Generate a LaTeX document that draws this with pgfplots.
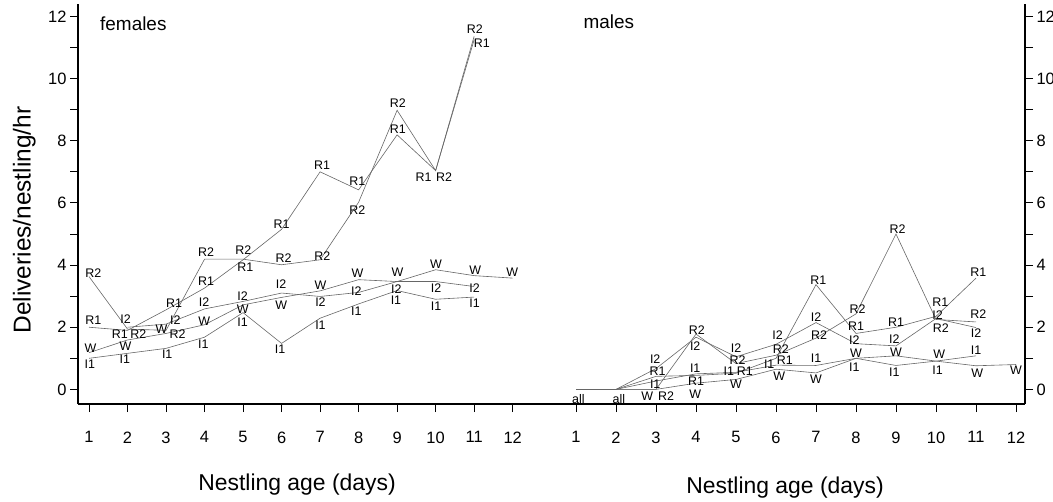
\documentclass[border=0pt]{standalone}
\usepackage{fontspec}
\setmainfont{Liberation Sans}
\usepackage{pgfplots}
\pgfplotsset{compat=1.18}

\pgfplotsset{
  ln/.style={black!60, line width=0.6bp, mark=none},
  lab/.style={only marks, mark=*, mark size=0pt, mark options={draw=none, fill=none},
    point meta=explicit symbolic,
    nodes near coords={\fontsize{12.5}{12.5}\selectfont\pgfplotspointmeta},
    every node near coord/.append style={anchor=center, inner sep=0pt, text=black}},
  panel/.style={
    scale only axis, height=400bp, clip=false,
    ymin=-0.47, ymax=12.4,
    ytick={0,2,...,12}, minor ytick={1,3,...,11},
    xtick={1,...,12},
    tick align=outside,
    major tick length=8bp, minor tick length=8bp,
    every tick/.style={black, line width=0.9bp},
    axis line style={-, black, line width=1.2bp},
    /pgf/number format/assume math mode=true,
    ticklabel style={font=\fontsize{16.5}{18}\selectfont},
    xticklabel style={yshift=-16bp},
  },
}

\begin{document}
\begin{tikzpicture}

% females
\begin{axis}[panel, name=L, at={(0,0)}, anchor=south west, width=467bp,
  xmin=0.714, xmax=12.84,
  axis x line*=bottom, axis y line*=left,
  ylabel={Deliveries/nestling/hr},
  every axis y label/.style={at={(axis description cs:-0.115,0.46)}, rotate=90, anchor=center,
    font=\fontsize{24.5}{26}\selectfont},
  xlabel={Nestling age (days)},
  every axis x label/.style={at={(axis description cs:0.469,-0.2025)}, anchor=center,
    font=\fontsize{23}{26}\selectfont},
]
\addplot[ln] coordinates {(1,2.0)(2,1.9)(3,2.56)(4,3.26)(5,4.17)(6,5.15)(7,7.0)(8,6.42)(9,8.19)(10,7.04)(11,11.25)};
\addplot[ln] coordinates {(1,3.63)(2,1.94)(3,1.9)(4,4.19)(5,4.19)(6,4.01)(7,4.17)(8,6.02)(9,8.98)(10,7.04)(11,11.36)};
\addplot[ln] coordinates {(2,2.0)(3,2.1)(4,2.59)(5,2.83)(6,3.1)(7,2.99)(8,3.12)(9,3.47)(10,3.47)(11,3.31)};
\addplot[ln] coordinates {(1,1.18)(2,1.59)(3,1.8)(4,2.08)(5,2.72)(6,2.96)(7,3.17)(8,3.53)(9,3.47)(10,3.85)(11,3.66)(12,3.58)};
\addplot[ln] coordinates {(1,1.0)(2,1.16)(3,1.32)(4,1.68)(5,2.47)(6,1.48)(7,2.29)(8,2.75)(9,3.18)(10,2.9)(11,2.97)};

\addplot[lab] coordinates {(1.11,2.24)[R1] (1.8,1.77)[R1] (3.21,2.77)[R1] (4.04,3.47)[R1] (5.06,3.92)[R1]
  (6.0,5.3)[R1] (7.05,7.2)[R1] (7.97,6.69)[R1] (9.02,8.37)[R1] (9.69,6.82)[R1] (11.2,11.15)[R1]};
\addplot[lab] coordinates {(1.11,3.74)[R2] (2.28,1.77)[R2] (3.3,1.77)[R2] (4.04,4.42)[R2] (5.01,4.47)[R2]
  (6.05,4.23)[R2] (7.06,4.28)[R2] (7.97,5.76)[R2] (9.02,9.2)[R2] (10.22,6.82)[R2] (11.02,11.59)[R2]};
\addplot[lab] coordinates {(1.95,2.26)[I2] (3.24,2.24)[I2] (3.99,2.8)[I2] (4.99,2.99)[I2] (5.99,3.37)[I2]
  (7.01,2.8)[I2] (7.94,3.15)[I2] (8.98,3.23)[I2] (10.01,3.26)[I2] (11.01,3.26)[I2]};
\addplot[lab] coordinates {(1.04,1.32)[W] (1.95,1.38)[W] (2.88,1.95)[W] (3.99,2.2)[W] (4.99,2.59)[W] (5.99,2.72)[W]
  (7.01,3.34)[W] (7.97,3.74)[W] (9.01,3.76)[W] (10.01,4.03)[W] (11.03,3.82)[W] (11.99,3.76)[W]};
\addplot[lab] coordinates {(1.02,0.82)[I1] (1.93,0.97)[I1] (3.03,1.13)[I1] (3.97,1.46)[I1] (4.99,2.15)[I1] (5.96,1.29)[I1]
  (7.01,2.08)[I1] (7.94,2.53)[I1] (8.97,2.86)[I1] (10.01,2.69)[I1] (11.01,2.77)[I1]};

\node[anchor=west, font=\fontsize{19}{20}\selectfont] at (axis description cs:0.04,0.95) {females};
\end{axis}

% males
\begin{axis}[panel, name=R, at={(L.south east)}, anchor=south west, width=480bp,
  xmin=0.225, xmax=12.225,
  axis x line*=bottom, axis y line*=right,
  xlabel={Nestling age (days)},
  every axis x label/.style={at={(axis description cs:0.5,-0.21)}, anchor=center,
    font=\fontsize{23}{26}\selectfont},
]
\addplot[ln] coordinates {(1,0)(2,0)};
\addplot[ln] coordinates {(2,0)(3,0.42)(4,0.45)(5,0.52)(6,1.0)(7,3.37)(8,1.8)(9,2.0)(10,2.35)(11,3.58)};
\addplot[ln] coordinates {(2,0)(3,0)(4,1.78)(5,0.83)(6,1.1)(7,1.65)(8,2.43)(9,5.0)(10,2.25)(11,2.17)};
\addplot[ln] coordinates {(2,0)(3,0.67)(4,1.68)(5,1.05)(6,1.45)(7,2.15)(8,1.47)(9,1.4)(10,2.28)(11,1.99)};
\addplot[ln] coordinates {(2,0)(3,0.27)(4,0.5)(5,0.55)(6,0.78)(7,0.77)(8,1.0)(9,0.77)(10,0.91)(11,1.08)};
\addplot[ln] coordinates {(2,0)(3,0)(4,0.2)(5,0.32)(6,0.65)(7,0.53)(8,1.0)(9,1.08)(10,0.91)(11,0.76)(12,0.8)};

\addplot[lab] coordinates {(1.06,-0.32)[all] (2.07,-0.32)[all]};
\addplot[lab] coordinates {(3.04,0.58)[R1] (4.0,0.26)[R1] (5.22,0.58)[R1] (6.22,0.93)[R1] (7.06,3.5)[R1]
  (8.0,2.03)[R1] (9.0,2.17)[R1] (10.11,2.8)[R1] (11.06,3.78)[R1]};
\addplot[lab] coordinates {(3.25,-0.22)[R2] (4.02,1.92)[R2] (5.04,0.93)[R2] (6.12,1.3)[R2] (7.08,1.76)[R2]
  (8.04,2.59)[R2] (9.04,5.15)[R2] (10.12,1.97)[R2] (11.06,2.42)[R2]};
\addplot[lab] coordinates {(2.98,0.98)[I2] (3.98,1.4)[I2] (5.0,1.34)[I2] (6.04,1.73)[I2] (7.0,2.34)[I2]
  (7.96,1.57)[I2] (8.96,1.63)[I2] (10.04,2.39)[I2] (11.0,1.8)[I2]};
\addplot[lab] coordinates {(2.98,0.18)[I1] (3.98,0.69)[I1] (4.82,0.58)[I1] (5.83,0.82)[I1] (7.0,1.0)[I1]
  (7.96,0.72)[I1] (8.96,0.56)[I1] (10.04,0.63)[I1] (11.0,1.26)[I1]};
\addplot[lab] coordinates {(2.78,-0.22)[W] (3.98,-0.16)[W] (5.0,0.18)[W] (6.08,0.42)[W] (7.0,0.34)[W]
  (8.0,1.17)[W] (9.0,1.2)[W] (10.08,1.13)[W] (11.03,0.53)[W] (12.0,0.61)[W]};

\node[anchor=west, font=\fontsize{19}{20}\selectfont] at (axis description cs:0.073,0.955) {males};
\end{axis}

\pgfresetboundingbox
\path[use as bounding box] ([shift={(-78bp,-98bp)}]L.south west) rectangle ++(1053bp,502bp);
\end{tikzpicture}
\end{document}
